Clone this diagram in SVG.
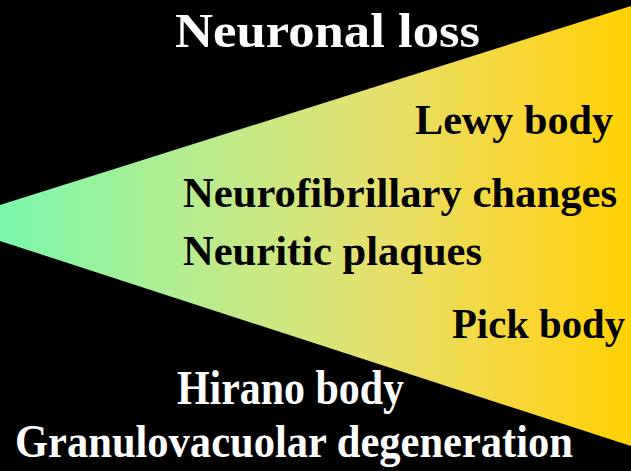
<svg xmlns="http://www.w3.org/2000/svg" width="631" height="471" viewBox="0 0 631 471">
<defs>
<linearGradient id="g" x1="0" y1="0" x2="631" y2="0" gradientUnits="userSpaceOnUse">
<stop offset="0" stop-color="#7af8ab"/>
<stop offset="0.3" stop-color="#b5ed90"/>
<stop offset="0.6" stop-color="#e6e06c"/>
<stop offset="0.85" stop-color="#f9d530"/>
<stop offset="1" stop-color="#ffd200"/>
</linearGradient>
<style>
.t{font-family:"Liberation Serif","Times New Roman",serif;font-weight:bold;}
.w{fill:#ffffff;font-size:48px;}
.b{fill:#000000;font-size:42px;}
</style>
</defs>
<rect x="0" y="0" width="631" height="471" fill="#000000"/>
<polygon id="wedge" points="0,205 631,6 631,446 0,241" fill="url(#g)"/>
<g id="labels">
<text class="t w" x="175" y="47" textLength="305" lengthAdjust="spacingAndGlyphs">Neuronal loss</text>
<text class="t b" x="415" y="134" textLength="198" lengthAdjust="spacingAndGlyphs">Lewy body</text>
<text class="t b" x="183" y="207" textLength="434" lengthAdjust="spacingAndGlyphs">Neurofibrillary changes</text>
<text class="t b" x="183" y="265" textLength="299" lengthAdjust="spacingAndGlyphs">Neuritic plaques</text>
<text class="t b" x="452" y="338" textLength="173" lengthAdjust="spacingAndGlyphs">Pick body</text>
<text class="t w" x="177" y="404" textLength="227" lengthAdjust="spacingAndGlyphs">Hirano body</text>
<text class="t w" x="15" y="457" style="font-size:46px" textLength="558" lengthAdjust="spacingAndGlyphs">Granulovacuolar degeneration</text>
</g>
</svg>
